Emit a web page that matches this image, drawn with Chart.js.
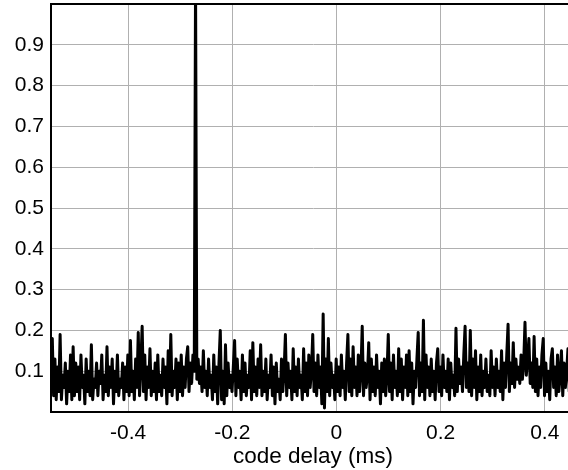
<!DOCTYPE html>
<html>
<head>
<meta charset="utf-8">
<title>code delay</title>
<script src="https://cdn.jsdelivr.net/npm/chart.js@4"></script>
<style>
  html, body { margin: 0; padding: 0; background: #fff; overflow: hidden; }
  #wrap { width: 575px; height: 470px; }
</style>
</head>
<body>
<div id="wrap"><canvas id="corrChart" width="575" height="470"></canvas></div>
<script>
// Sample grid of the correlation output (code delay, ms)
const delayStart = -0.548;
const delayStep = 0.0025;

// Normalised correlation magnitude, one value per delay sample
const corrValues = [
  0.06, 0.18, 0.04, 0.13, 0.03, 0.11, 0.05, 0.19, 0.03, 0.09, 0.06, 0.12, 0.02, 0.10, 0.05, 0.14, 0.03, 0.16, 0.04, 0.12,
  0.05, 0.11, 0.03, 0.14, 0.06, 0.09, 0.02, 0.13, 0.05, 0.10, 0.04, 0.165, 0.03, 0.08, 0.06, 0.12, 0.04, 0.10, 0.07, 0.14,
  0.03, 0.09, 0.05, 0.16, 0.04, 0.11, 0.06, 0.13, 0.02, 0.10, 0.05, 0.14, 0.04, 0.08, 0.06, 0.12, 0.03, 0.11, 0.05, 0.14,
  0.04, 0.175, 0.05, 0.10, 0.03, 0.13, 0.06, 0.195, 0.04, 0.12, 0.21, 0.05, 0.14, 0.03, 0.11, 0.06, 0.155, 0.04, 0.10, 0.05,
  0.12, 0.03, 0.14, 0.05, 0.09, 0.04, 0.13, 0.06, 0.11, 0.02, 0.15, 0.05, 0.19, 0.04, 0.10, 0.06, 0.13, 0.03, 0.12, 0.05,
  0.14, 0.04, 0.11, 0.06, 0.13, 0.16, 0.05, 0.12, 0.07, 0.14, 0.10, 1.05, 0.08, 0.13, 0.07, 0.11, 0.05, 0.15, 0.06, 0.10,
  0.04, 0.13, 0.06, 0.09, 0.03, 0.14, 0.05, 0.11, 0.02, 0.12, 0.20, 0.03, 0.10, 0.02, 0.165, 0.04, 0.12, 0.06, 0.09, 0.05,
  0.11, 0.175, 0.04, 0.13, 0.06, 0.10, 0.03, 0.14, 0.05, 0.12, 0.04, 0.09, 0.06, 0.15, 0.03, 0.17, 0.05, 0.11, 0.04, 0.13,
  0.06, 0.165, 0.04, 0.10, 0.05, 0.13, 0.03, 0.09, 0.06, 0.14, 0.04, 0.11, 0.02, 0.12, 0.05, 0.08, 0.03, 0.13, 0.05, 0.10,
  0.19, 0.04, 0.12, 0.06, 0.10, 0.03, 0.155, 0.05, 0.11, 0.04, 0.13, 0.06, 0.09, 0.03, 0.155, 0.05, 0.12, 0.04, 0.14, 0.06,
  0.10, 0.19, 0.05, 0.12, 0.04, 0.14, 0.06, 0.11, 0.02, 0.24, 0.01, 0.13, 0.05, 0.18, 0.04, 0.12, 0.06, 0.09, 0.03, 0.13,
  0.05, 0.11, 0.04, 0.14, 0.06, 0.10, 0.03, 0.12, 0.19, 0.05, 0.13, 0.04, 0.16, 0.06, 0.11, 0.04, 0.14, 0.05, 0.10, 0.21,
  0.04, 0.12, 0.06, 0.09, 0.17, 0.03, 0.13, 0.05, 0.11, 0.04, 0.14, 0.06, 0.10, 0.02, 0.12, 0.05, 0.13, 0.04, 0.09, 0.19,
  0.05, 0.12, 0.03, 0.14, 0.06, 0.10, 0.04, 0.155, 0.05, 0.13, 0.03, 0.11, 0.06, 0.14, 0.04, 0.15, 0.05, 0.12, 0.02, 0.10,
  0.06, 0.13, 0.195, 0.04, 0.12, 0.05, 0.225, 0.03, 0.14, 0.06, 0.11, 0.04, 0.13, 0.05, 0.10, 0.03, 0.12, 0.155, 0.05, 0.11,
  0.04, 0.14, 0.06, 0.10, 0.05, 0.13, 0.03, 0.12, 0.06, 0.09, 0.04, 0.205, 0.05, 0.13, 0.07, 0.11, 0.05, 0.14, 0.21, 0.06,
  0.12, 0.05, 0.20, 0.04, 0.13, 0.06, 0.15, 0.03, 0.11, 0.05, 0.14, 0.04, 0.10, 0.06, 0.13, 0.05, 0.09, 0.04, 0.15, 0.06,
  0.11, 0.04, 0.13, 0.06, 0.10, 0.05, 0.15, 0.03, 0.12, 0.06, 0.14, 0.215, 0.05, 0.12, 0.07, 0.17, 0.06, 0.13, 0.08, 0.11,
  0.07, 0.14, 0.08, 0.12, 0.22, 0.09, 0.13, 0.18, 0.07, 0.12, 0.06, 0.185, 0.05, 0.13, 0.04, 0.11, 0.06, 0.14, 0.18, 0.04,
  0.12, 0.05, 0.10, 0.03, 0.13, 0.155, 0.06, 0.11, 0.04, 0.14, 0.05, 0.09, 0.15, 0.04, 0.12, 0.06, 0.10, 0.155, 0.05, 0.11
];

// Axis ticks
const xTicks = [-0.4, -0.2, 0, 0.2, 0.4];
const yTicks = [0.1, 0.2, 0.3, 0.4, 0.5, 0.6, 0.7, 0.8, 0.9];

const points = corrValues.map((v, i) => ({ x: delayStart + i * delayStep, y: v }));

const tickFont = { family: "'Liberation Sans', Arial, sans-serif", size: 21 };
const titleFont = { family: "'Liberation Sans', Arial, sans-serif", size: 22.5 };
const gridColor = '#b0b0b0';

const ctx = document.getElementById('corrChart').getContext('2d');
new Chart(ctx, {
    type: 'line',
    data: {
        datasets: [{
            data: points,
            borderColor: '#000',
            borderWidth: 3,
            borderJoinStyle: 'round',
            pointRadius: 0,
            tension: 0,
            fill: false
        }]
    },
    options: {
        responsive: false,
        animation: false,
        events: [],
        layout: { padding: 0 },
        plugins: {
            legend: { display: false },
            tooltip: { enabled: false }
        },
        scales: {
            x: {
                type: 'linear',
                position: 'bottom',
                min: -0.548,
                max: 0.458,
                afterBuildTicks: s => { s.ticks = xTicks.map(v => ({ value: v })); },
                afterFit: s => {
                    s.height = 58;
                    s.paddingLeft = 0;
                    s.paddingRight = 0;
                },
                grid: { color: gridColor, lineWidth: 1, drawTicks: false },
                border: { color: '#000', width: 2 },
                ticks: {
                    color: '#000',
                    font: tickFont,
                    padding: 9,
                    maxRotation: 0,
                    callback: v => String(v)
                },
                title: {
                    display: true,
                    text: 'code delay (ms)',
                    color: '#000',
                    font: titleFont,
                    padding: { top: 0, bottom: 0 }
                }
            },
            xTop: {
                type: 'linear',
                position: 'top',
                min: -0.548,
                max: 0.458,
                afterFit: s => { s.height = 4; },
                grid: { display: false, drawTicks: false },
                border: { color: '#000', width: 2 },
                ticks: { display: false }
            },
            y: {
                min: 0,
                max: 1,
                afterBuildTicks: s => { s.ticks = yTicks.map(v => ({ value: v })); },
                afterFit: s => {
                    s.width = 51;
                    s.paddingTop = 0;
                    s.paddingBottom = 0;
                },
                grid: { color: gridColor, lineWidth: 1, drawTicks: false },
                border: { color: '#000', width: 2 },
                ticks: {
                    color: '#000',
                    font: tickFont,
                    padding: 7,
                    callback: v => String(v)
                }
            }
        }
    }
});
</script>
</body>
</html>
